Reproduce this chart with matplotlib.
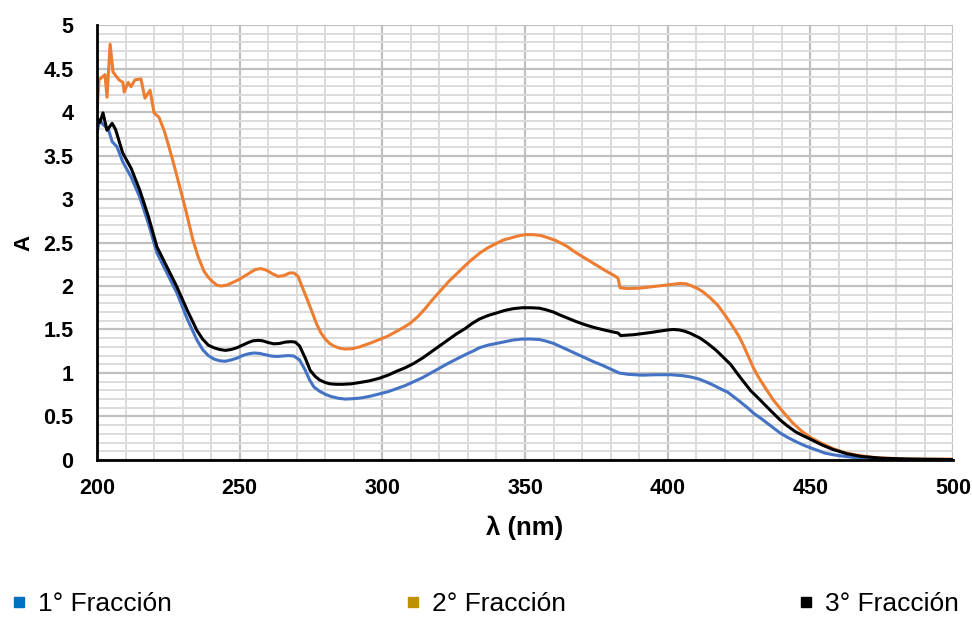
import matplotlib
matplotlib.use("Agg")
import matplotlib.pyplot as plt
from matplotlib.lines import Line2D
from matplotlib.ticker import MultipleLocator

plt.rcParams['font.family'] = ['Liberation Sans', 'DejaVu Sans']

# absorbance spectra
wl_1 = [200, 201, 202, 203, 204, 205.3, 207, 209, 212, 215, 218, 221, 224.5, 228,
        231.5, 235, 237, 239, 241, 243, 245, 247, 249, 251, 253, 255, 257, 259, 261,
        263, 265, 267, 269, 271, 273, 274.5, 276, 278, 280, 282, 284.5, 287, 290, 293,
        296, 299, 302, 305, 308, 311, 314, 317, 320, 323, 326, 329, 332, 334, 337, 340,
        343, 346, 349, 352, 355, 357, 360, 362, 365, 368, 371, 374, 377, 379, 381, 383,
        386, 391, 396, 401, 405, 408, 411, 414, 416, 419, 421, 423, 425, 428, 430, 433,
        435, 437, 439.4, 442, 445, 448, 450, 453, 455, 458, 460, 465, 470, 480, 490, 500]
abs_1 = [3.77, 3.91, 3.86, 3.83, 3.80, 3.66, 3.60, 3.43, 3.25, 3.02, 2.72, 2.38, 2.15, 1.92,
         1.63, 1.38, 1.27, 1.20, 1.16, 1.14, 1.135, 1.15, 1.17, 1.20, 1.22, 1.23, 1.225, 1.21, 1.195,
         1.19, 1.195, 1.20, 1.195, 1.15, 1.03, 0.92, 0.84, 0.79, 0.755, 0.73, 0.71, 0.70, 0.705, 0.715,
         0.735, 0.76, 0.785, 0.82, 0.855, 0.90, 0.945, 1.00, 1.055, 1.11, 1.16, 1.21, 1.255, 1.29, 1.32, 1.34,
         1.36, 1.38, 1.39, 1.39, 1.385, 1.37, 1.34, 1.31, 1.265, 1.22, 1.175, 1.13, 1.09, 1.06, 1.03, 1.00,
         0.985, 0.975, 0.98, 0.98, 0.97, 0.955, 0.93, 0.89, 0.86, 0.81, 0.78, 0.73, 0.68, 0.6, 0.54, 0.47,
         0.42, 0.37, 0.31, 0.26, 0.21, 0.165, 0.14, 0.105, 0.08, 0.06, 0.05, 0.03, 0.02, 0.01, 0.005, 0.003]

wl_2 = [200, 200.7, 202.8, 203.5, 204.6, 205.6, 207.7, 209.1, 209.5, 210.9, 211.9, 213.3,
        215.4, 216.8, 218.6, 220, 221.7, 223.5, 224.5, 226.5, 229, 231.5, 233.6, 235.5,
        237.5, 239, 240.5, 242, 243.5, 245.5, 247.5, 249.5, 251.5, 253.5, 255.5, 257.5,
        259.5, 261.5, 263.5, 265.5, 267.5, 269, 270.5, 272, 273.5, 275.5, 277, 278.5, 280,
        281.5, 283, 285, 287, 289.5, 292, 295.5, 299, 302, 304.5, 307, 309.7, 312.5, 315,
        317.5, 320.2, 323.5, 327, 330.5, 334.2, 337, 340, 342.5, 344.8, 347.5, 350, 353,
        355.5, 358, 361, 364.5, 368, 371, 374, 377, 379, 381, 382.6, 383.3, 386, 390, 394,
        398, 402, 404.3, 406.5, 408.5, 410.5, 412.5, 415, 417.5, 420, 422.9, 425, 426.5, 428,
        429.9, 431.5, 433.4, 435, 437, 440.5, 444, 447, 450, 454, 458, 462.5, 467.4, 472,
        477, 483, 490, 500]
abs_2 = [4.00, 4.37, 4.43, 4.17, 4.78, 4.46, 4.37, 4.34, 4.23, 4.34, 4.29, 4.37,
         4.38, 4.16, 4.25, 3.99, 3.94, 3.79, 3.68, 3.45, 3.14, 2.82, 2.53, 2.33,
         2.17, 2.10, 2.05, 2.01, 2.00, 2.01, 2.04, 2.07, 2.11, 2.15, 2.19, 2.20,
         2.18, 2.14, 2.11, 2.12, 2.15, 2.15, 2.11, 1.98, 1.86, 1.69, 1.56, 1.46, 1.39,
         1.34, 1.31, 1.285, 1.275, 1.28, 1.30, 1.34, 1.385, 1.425, 1.47, 1.515, 1.57, 1.65, 1.74,
         1.84, 1.94, 2.06, 2.17, 2.28, 2.38, 2.44, 2.49, 2.53, 2.55, 2.575, 2.59, 2.59,
         2.58, 2.555, 2.52, 2.46, 2.38, 2.32, 2.26, 2.2, 2.16, 2.125, 2.09, 1.98, 1.97, 1.975, 1.99,
         2.005, 2.02, 2.03, 2.025, 2.0, 1.97, 1.93, 1.86, 1.78, 1.67, 1.53, 1.42, 1.32, 1.21,
         1.07, 0.97, 0.87, 0.79, 0.69, 0.55, 0.42, 0.33, 0.26, 0.19, 0.13, 0.08, 0.05, 0.03,
         0.02, 0.013, 0.01, 0.01]

wl_3 = [200, 201, 202.1, 203.5, 205.3, 206.5, 209, 212, 215, 218, 221, 224.5, 228, 231.5,
        235, 237, 239, 241, 243, 245, 247, 249, 251, 253, 254.7, 256.5, 258, 260, 262, 264,
        266, 268, 269.5, 271, 273, 274.7, 276.5, 278, 280, 281.7, 284, 286, 289, 292, 295.5,
        299, 302, 305, 308, 311, 314, 317, 320, 323, 326, 329, 331.5, 334, 337, 340, 343,
        346, 349, 352, 355, 357, 360, 362, 365, 368, 371, 374, 377, 379, 381, 382.6, 383.5,
        388, 394, 397, 400, 402, 404, 406, 408, 411.4, 414, 417, 419.5, 422, 425.4, 429,
        432.4, 436, 439.4, 442, 445, 448, 450, 453, 455, 458, 463, 468, 475, 485, 500]
abs_3 = [3.93, 3.88, 3.99, 3.79, 3.87, 3.80, 3.53, 3.35, 3.10, 2.80, 2.45, 2.22, 1.99, 1.73,
         1.49, 1.39, 1.32, 1.29, 1.27, 1.26, 1.27, 1.29, 1.32, 1.35, 1.37, 1.375, 1.37, 1.35, 1.335, 1.34,
         1.355, 1.36, 1.355, 1.31, 1.17, 1.03, 0.96, 0.92, 0.89, 0.875, 0.87, 0.87, 0.875, 0.89, 0.91,
         0.94, 0.975, 1.02, 1.06, 1.11, 1.17, 1.24, 1.31, 1.38, 1.45, 1.51, 1.57, 1.62, 1.66, 1.69, 1.72,
         1.74, 1.75, 1.75, 1.745, 1.73, 1.70, 1.67, 1.63, 1.59, 1.555, 1.525, 1.50, 1.485, 1.47, 1.46, 1.43,
         1.44, 1.465, 1.48, 1.495, 1.50, 1.495, 1.48, 1.455, 1.40, 1.34, 1.26, 1.18, 1.10, 0.95, 0.80,
         0.69, 0.57, 0.46, 0.39, 0.32, 0.27, 0.24, 0.19, 0.16, 0.12, 0.07, 0.04, 0.02, 0.01, 0.005]

line_colors = ['#4472C4', '#ED7D31', '#000000']
legend_labels = ['1° Fracción', '2° Fracción', '3° Fracción']
legend_colors = ['#0070C0', '#BF9000', '#000000']

fig = plt.figure(figsize=(9.72, 6.18), dpi=100)
ax = fig.add_axes([0.0998, 0.2557, 0.8807, 0.7038])

for wl, a, c in zip([wl_1, wl_2, wl_3], [abs_1, abs_2, abs_3], line_colors):
    ax.plot(wl, a, color=c, lw=2.2, solid_joinstyle='round', zorder=3)

ax.set_xlim(200, 500)
ax.set_ylim(0, 5)
ax.xaxis.set_major_locator(MultipleLocator(50))
ax.xaxis.set_minor_locator(MultipleLocator(10))
ax.yaxis.set_major_locator(MultipleLocator(0.5))
ax.yaxis.set_minor_locator(MultipleLocator(0.1))
ax.yaxis.set_major_formatter(plt.FuncFormatter(lambda v, p: f'{v:g}'))

ax.grid(True, which='minor', color='#DCDCDC', lw=1.4, zorder=0)
ax.grid(True, which='major', color='#C0C0C0', lw=1.6, zorder=1)
ax.set_axisbelow(True)

for s in ['top', 'right']:
    ax.spines[s].set_visible(False)
for s in ['left', 'bottom']:
    ax.spines[s].set_linewidth(2.0)
    ax.spines[s].set_color('black')
    ax.spines[s].set_zorder(4)

ax.tick_params(which='both', length=0)
ax.tick_params(axis='y', pad=17, labelsize=15.5)
ax.tick_params(axis='x', pad=13, labelsize=15.5)
for lbl in ax.get_xticklabels() + ax.get_yticklabels():
    lbl.set_fontweight('bold')

ax.set_xlabel('λ (nm)', fontsize=18.5, fontweight='bold', labelpad=12)
ax.set_ylabel('A', fontsize=16, fontweight='bold', labelpad=6)

handles = [Line2D([], [], marker='s', ls='none', color=c, markersize=7) for c in legend_colors]
fig.legend(handles, legend_labels, loc='lower left', bbox_to_anchor=(0.012, 0.003, 0.975, 0.05),
           mode='expand', ncol=3, frameon=False, handlelength=0.55, handletextpad=0.45,
           borderaxespad=0, borderpad=0, prop={'size': 19})

fig.savefig('out.png', dpi=100)
